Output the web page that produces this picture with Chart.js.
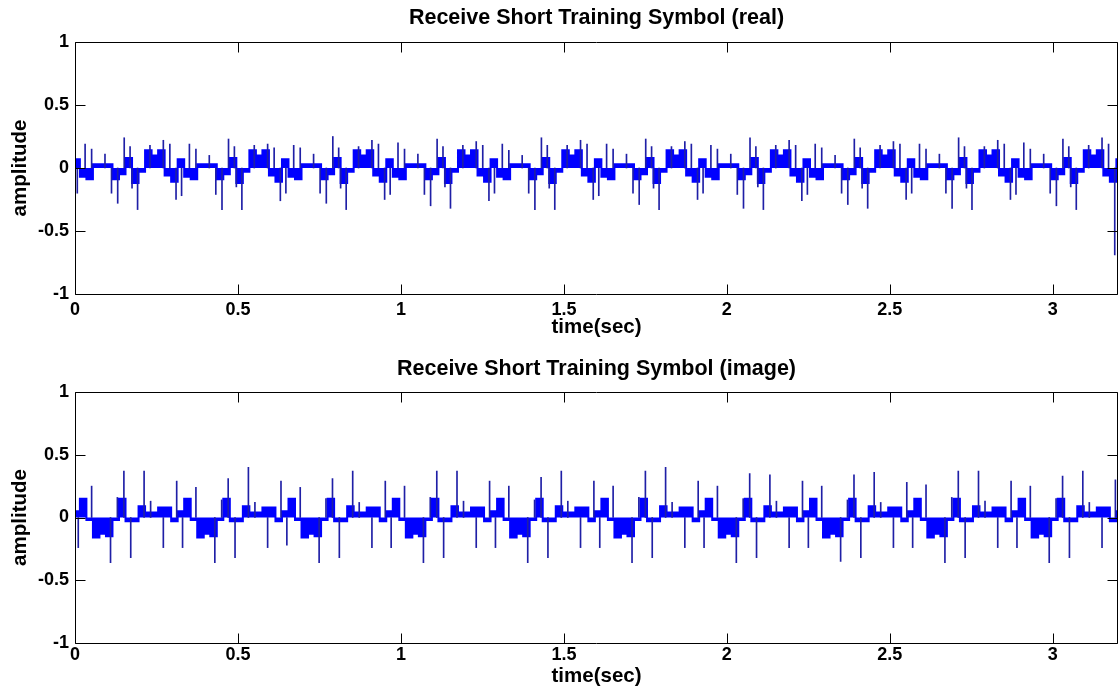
<!DOCTYPE html>
<html>
<head>
<meta charset="utf-8">
<script src="https://cdn.jsdelivr.net/npm/chart.js@4.4.1/dist/chart.umd.min.js"></script>
<style>
  html, body { margin: 0; padding: 0; background: #fff; }
  .panel { width: 1120px; height: 348px; }
  canvas { display: block; }
</style>
</head>
<body>
<div class="panel"><canvas id="realChart" width="1120" height="348"></canvas></div>
<div class="panel"><canvas id="imagChart" width="1120" height="348"></canvas></div>
<script>
// held sample levels: one value every 0.02 sec, first one starts at -0.005 sec
const sampleStart = -0.005;
const sampleStep = 0.02;

const realLevels = [
  0.07, -0.07, -0.09, 0.03, 0.03, 0.03, -0.09, -0.05, 0.08, -0.12, -0.03, 0.14, 0.10, 0.14, -0.06, -0.11,
  0.07, -0.07, -0.09, 0.03, 0.03, 0.03, -0.09, -0.05, 0.08, -0.12, -0.03, 0.14, 0.10, 0.14, -0.06, -0.11,
  0.07, -0.07, -0.09, 0.03, 0.03, 0.03, -0.09, -0.05, 0.08, -0.12, -0.03, 0.14, 0.10, 0.14, -0.06, -0.11,
  0.07, -0.07, -0.09, 0.03, 0.03, 0.03, -0.09, -0.05, 0.08, -0.12, -0.03, 0.14, 0.10, 0.14, -0.06, -0.11,
  0.07, -0.07, -0.09, 0.03, 0.03, 0.03, -0.09, -0.05, 0.08, -0.12, -0.03, 0.14, 0.10, 0.14, -0.06, -0.11,
  0.07, -0.07, -0.09, 0.03, 0.03, 0.03, -0.09, -0.05, 0.08, -0.12, -0.03, 0.14, 0.10, 0.14, -0.06, -0.11,
  0.07, -0.07, -0.09, 0.03, 0.03, 0.03, -0.09, -0.05, 0.08, -0.12, -0.03, 0.14, 0.10, 0.14, -0.06, -0.11,
  0.07, -0.07, -0.09, 0.03, 0.03, 0.03, -0.09, -0.05, 0.08, -0.12, -0.03, 0.14, 0.10, 0.14, -0.06, -0.11,
  0.07, -0.07, -0.09, 0.03, 0.03, 0.03, -0.09, -0.05, 0.08, -0.12, -0.03, 0.14, 0.10, 0.14, -0.06, -0.11,
  0.07, -0.07, -0.09, 0.03, 0.03, 0.03, -0.09, -0.05, 0.08, -0.12, -0.03, 0.14, 0.10, 0.14, -0.06, -0.11,
  0.07
];

const imagLevels = [
  0.05, 0.15, -0.02, -0.16, -0.13, -0.15, -0.02, 0.15, -0.03, -0.03, 0.09, 0.04, 0.04, 0.08, 0.08, -0.03,
  0.05, 0.15, -0.02, -0.16, -0.13, -0.15, -0.02, 0.15, -0.03, -0.03, 0.09, 0.04, 0.04, 0.08, 0.08, -0.03,
  0.05, 0.15, -0.02, -0.16, -0.13, -0.15, -0.02, 0.15, -0.03, -0.03, 0.09, 0.04, 0.04, 0.08, 0.08, -0.03,
  0.05, 0.15, -0.02, -0.16, -0.13, -0.15, -0.02, 0.15, -0.03, -0.03, 0.09, 0.04, 0.04, 0.08, 0.08, -0.03,
  0.05, 0.15, -0.02, -0.16, -0.13, -0.15, -0.02, 0.15, -0.03, -0.03, 0.09, 0.04, 0.04, 0.08, 0.08, -0.03,
  0.05, 0.15, -0.02, -0.16, -0.13, -0.15, -0.02, 0.15, -0.03, -0.03, 0.09, 0.04, 0.04, 0.08, 0.08, -0.03,
  0.05, 0.15, -0.02, -0.16, -0.13, -0.15, -0.02, 0.15, -0.03, -0.03, 0.09, 0.04, 0.04, 0.08, 0.08, -0.03,
  0.05, 0.15, -0.02, -0.16, -0.13, -0.15, -0.02, 0.15, -0.03, -0.03, 0.09, 0.04, 0.04, 0.08, 0.08, -0.03,
  0.05, 0.15, -0.02, -0.16, -0.13, -0.15, -0.02, 0.15, -0.03, -0.03, 0.09, 0.04, 0.04, 0.08, 0.08, -0.03,
  0.05, 0.15, -0.02, -0.16, -0.13, -0.15, -0.02, 0.15, -0.03, -0.03, 0.09, 0.04, 0.04, 0.08, 0.08, -0.03,
  0.05
];

// thin spikes (time in sec, amplitude)
const realSpikeTimes = [
  0.007, 0.031, 0.051, 0.092, 0.112, 0.131, 0.151, 0.169, 0.175, 0.192, 0.230, 0.271, 0.291, 0.310,
  0.327, 0.351, 0.371, 0.412, 0.432, 0.451, 0.471, 0.489, 0.495, 0.512, 0.550, 0.591, 0.611, 0.630,
  0.647, 0.671, 0.691, 0.732, 0.752, 0.771, 0.791, 0.809, 0.815, 0.832, 0.870, 0.911, 0.931, 0.950,
  0.967, 0.991, 1.011, 1.052, 1.072, 1.091, 1.111, 1.129, 1.135, 1.152, 1.190, 1.231, 1.251, 1.270,
  1.287, 1.311, 1.331, 1.372, 1.392, 1.411, 1.431, 1.449, 1.455, 1.472, 1.510, 1.551, 1.571, 1.590,
  1.607, 1.631, 1.651, 1.692, 1.712, 1.731, 1.751, 1.769, 1.775, 1.792, 1.830, 1.871, 1.891, 1.910,
  1.927, 1.951, 1.971, 2.012, 2.032, 2.051, 2.071, 2.089, 2.095, 2.112, 2.150, 2.191, 2.211, 2.230,
  2.247, 2.271, 2.291, 2.332, 2.352, 2.371, 2.391, 2.409, 2.415, 2.432, 2.470, 2.511, 2.531, 2.550,
  2.567, 2.591, 2.611, 2.652, 2.672, 2.691, 2.711, 2.729, 2.735, 2.752, 2.790, 2.831, 2.851, 2.870,
  2.887, 2.911, 2.931, 2.972, 2.992, 3.011, 3.031, 3.049, 3.055, 3.072, 3.110, 3.151, 3.171, 3.190
];
const realSpikeValues = [
  -0.20, 0.19, 0.15, 0.11, -0.20, -0.28, 0.24, 0.17, -0.16, -0.33, 0.18, 0.22, 0.19, -0.25,
  -0.22, 0.19, 0.15, 0.10, -0.21, -0.33, 0.23, 0.17, -0.15, -0.33, 0.18, 0.19, 0.16, -0.26,
  -0.20, 0.18, 0.16, 0.11, -0.20, -0.28, 0.25, 0.16, -0.16, -0.33, 0.17, 0.22, 0.19, -0.25,
  -0.21, 0.20, 0.15, 0.11, -0.21, -0.30, 0.23, 0.17, -0.15, -0.32, 0.18, 0.21, 0.18, -0.26,
  -0.20, 0.19, 0.14, 0.10, -0.20, -0.33, 0.24, 0.18, -0.16, -0.33, 0.18, 0.22, 0.19, -0.25,
  -0.22, 0.19, 0.15, 0.11, -0.20, -0.29, 0.23, 0.17, -0.16, -0.33, 0.17, 0.21, 0.19, -0.25,
  -0.20, 0.18, 0.15, 0.11, -0.21, -0.32, 0.24, 0.17, -0.15, -0.33, 0.18, 0.22, 0.18, -0.26,
  -0.21, 0.19, 0.16, 0.10, -0.20, -0.29, 0.23, 0.16, -0.16, -0.32, 0.18, 0.21, 0.19, -0.25,
  -0.20, 0.19, 0.15, 0.11, -0.20, -0.32, 0.24, 0.17, -0.16, -0.33, 0.17, 0.22, 0.19, -0.25,
  -0.21, 0.20, 0.15, 0.11, -0.20, -0.30, 0.23, 0.17, -0.15, -0.33, 0.18, 0.24, 0.19, -0.69
];

const imagSpikeTimes = [
  0.010, 0.051, 0.109, 0.130, 0.150, 0.171, 0.212, 0.232, 0.271, 0.312,
  0.330, 0.371, 0.429, 0.450, 0.470, 0.491, 0.532, 0.552, 0.591, 0.632,
  0.650, 0.691, 0.749, 0.770, 0.790, 0.811, 0.852, 0.872, 0.911, 0.952,
  0.970, 1.011, 1.069, 1.090, 1.110, 1.131, 1.172, 1.192, 1.231, 1.272,
  1.290, 1.331, 1.389, 1.410, 1.430, 1.451, 1.492, 1.512, 1.551, 1.592,
  1.610, 1.651, 1.709, 1.730, 1.750, 1.771, 1.812, 1.832, 1.871, 1.912,
  1.930, 1.971, 2.029, 2.050, 2.070, 2.091, 2.132, 2.152, 2.191, 2.232,
  2.250, 2.291, 2.349, 2.370, 2.390, 2.411, 2.452, 2.472, 2.511, 2.552,
  2.570, 2.611, 2.669, 2.690, 2.710, 2.731, 2.772, 2.792, 2.831, 2.872,
  2.890, 2.931, 2.989, 3.010, 3.030, 3.051, 3.092, 3.112, 3.151, 3.192
];
const imagSpikeValues = [
  -0.24, 0.25, -0.36, 0.16, 0.37, -0.32, 0.37, 0.13, -0.24, 0.29,
  -0.24, 0.24, -0.36, 0.14, 0.31, -0.32, 0.40, 0.12, -0.24, 0.29,
  -0.22, 0.24, -0.36, 0.15, 0.31, -0.32, 0.37, 0.12, -0.24, 0.29,
  -0.24, 0.25, -0.36, 0.16, 0.37, -0.32, 0.37, 0.13, -0.24, 0.29,
  -0.24, 0.25, -0.36, 0.14, 0.32, -0.32, 0.37, 0.13, -0.24, 0.29,
  -0.24, 0.25, -0.36, 0.16, 0.37, -0.32, 0.40, 0.12, -0.24, 0.29,
  -0.24, 0.25, -0.36, 0.15, 0.35, -0.32, 0.34, 0.13, -0.24, 0.29,
  -0.24, 0.25, -0.35, 0.14, 0.34, -0.32, 0.36, 0.12, -0.24, 0.28,
  -0.24, 0.26, -0.36, 0.16, 0.37, -0.32, 0.37, 0.13, -0.24, 0.29,
  -0.24, 0.25, -0.36, 0.15, 0.33, -0.32, 0.37, 0.12, -0.24, 0.30
];

const FONT = "'Liberation Sans', Arial, sans-serif";

// matlab style tick text: 1, 0.5, 0, -0.5 ...
const matlabNum = v => String(+Number(v).toFixed(3));

// MATLAB style box with inward tick marks on all four sides
const matlabBox = {
  id: 'matlabBox',
  afterDraw(chart) {
    const {ctx, chartArea: a, scales: {x, y}} = chart;
    const L = Math.round(a.left) + 0.5, R = Math.round(a.right) - 0.5;
    const T = Math.round(a.top) + 0.5, B = Math.round(a.bottom) + 0.5;
    ctx.save();
    ctx.strokeStyle = '#000';
    ctx.lineWidth = 1;
    ctx.beginPath();
    x.ticks.forEach(t => {
      const px = Math.round(x.getPixelForValue(t.value)) + 0.5;
      ctx.moveTo(px, B); ctx.lineTo(px, B - 10);
      ctx.moveTo(px, T); ctx.lineTo(px, T + 10);
    });
    y.ticks.forEach(t => {
      const py = Math.round(y.getPixelForValue(t.value)) + 0.5;
      ctx.moveTo(L, py); ctx.lineTo(L + 10, py);
      ctx.moveTo(R, py); ctx.lineTo(R - 10, py);
    });
    ctx.rect(L, T, R - L, B - T);
    ctx.stroke();
    ctx.restore();
  }
};

function drawPanel(id, titleText, levels, spikeTimes, spikeValues, lay) {
  let points = levels.map((v, i) => ({x: sampleStart + i * sampleStep, y: v}));
  points.push({x: sampleStart + levels.length * sampleStep, y: levels[levels.length - 1]});
  let spikes = spikeTimes.map((t, i) => ({x: t, y: spikeValues[i]}));

  let tickFont = {family: FONT, size: 18, weight: 'bold'};
  let labelFont = {family: FONT, size: 20.5, weight: 'bold'};

  new Chart(document.getElementById(id), {
    type: 'line',
    data: {
      datasets: [{
        type: 'line',
        data: points,
        stepped: 'before',
        fill: 'origin',
        borderColor: '#0000ff',
        backgroundColor: '#0000ff',
        borderWidth: 2,
        pointRadius: 0,
        order: 1
      }, {
        type: 'bar',
        data: spikes,
        backgroundColor: '#1f1fa6',
        borderWidth: 0,
        barThickness: 1,
        grouped: false,
        order: 0
      }]
    },
    options: {
      responsive: false,
      animation: false,
      events: [],
      layout: {padding: {left: 0, right: 2, top: 0, bottom: 0}},
      plugins: {legend: {display: false}, tooltip: {enabled: false}},
      scales: {
        x: {
          type: 'linear', position: 'bottom', min: 0, max: 3.2, offset: false,
          grid: {display: false, drawTicks: false, offset: false}, border: {display: false},
          ticks: {stepSize: 0.5, includeBounds: false, autoSkip: false, maxRotation: 0,
                  padding: lay.xTickPad, color: '#000', font: tickFont, callback: matlabNum},
          title: {display: true, text: 'time(sec)', color: '#000', font: labelFont,
                  padding: {top: 0, bottom: lay.xTitlePad}},
          afterFit: s => { s.height = lay.bottomH; }
        },
        top: {
          type: 'linear', position: 'top', min: 0, max: 3.2, offset: false,
          grid: {display: false, drawTicks: false}, border: {display: false},
          ticks: {display: false},
          title: {display: true, text: titleText, color: '#000',
                  font: {family: FONT, size: 21.5, weight: 'bold'},
                  padding: {top: lay.titlePad, bottom: 0}},
          afterFit: s => { s.height = lay.topH; }
        },
        y: {
          type: 'linear', min: -1, max: 1,
          grid: {display: false, drawTicks: false}, border: {display: false},
          ticks: {stepSize: 0.5, padding: 6, color: '#000', font: tickFont, callback: matlabNum},
          title: {display: true, text: 'amplitude', color: '#000', font: labelFont,
                  padding: {top: 8, bottom: 0}},
          afterFit: s => { s.width = 75; }
        }
      }
    },
    plugins: [matlabBox]
  });
}

drawPanel('realChart', 'Receive Short Training Symbol (real)', realLevels, realSpikeTimes, realSpikeValues,
  {topH: 42, titlePad: 5, bottomH: 54, xTickPad: 5, xTitlePad: 8});
drawPanel('imagChart', 'Receive Short Training Symbol (image)', imagLevels, imagSpikeTimes, imagSpikeValues,
  {topH: 44, titlePad: 8, bottomH: 53, xTickPad: 1, xTitlePad: 7});
</script>
</body>
</html>
